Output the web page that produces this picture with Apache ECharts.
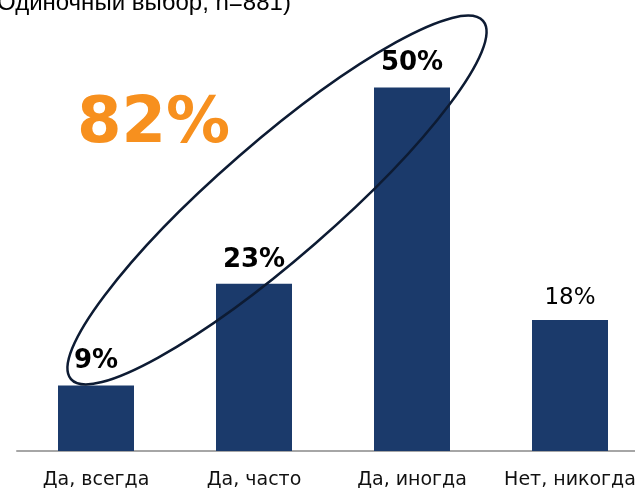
<!DOCTYPE html>
<html>
<head>
<meta charset="utf-8">
<script src="https://cdn.jsdelivr.net/npm/echarts@6/dist/echarts.min.js"></script>
<style>
  html, body { margin: 0; padding: 0; background: #fff; overflow: hidden; }
  #chart { width: 649px; height: 490px; }
</style>
</head>
<body>
<div id="chart"></div>
<script>
// ответы на вопрос (одиночный выбор, n=881)
var categories = ['Да, всегда', 'Да, часто', 'Да, иногда', 'Нет, никогда'];
var shares = [9, 23, 50, 18];
var subtitle = '(Одиночный выбор, n=881)';

// ответы "Да" обведены и просуммированы
var yesCount = 3;
var yesTotal = 0;
for (var i = 0; i < yesCount; i++) {
    yesTotal += shares[i];
}

var barData = [];
for (var i = 0; i < shares.length; i++) {
    var yes = i < yesCount;
    barData.push({
        value: shares[i],
        label: {
            fontWeight: yes ? 'bold' : 'normal',
            fontSize: yes ? 26 : 23,
            distance: yes ? 11 : 11
        }
    });
}

var chart = echarts.init(document.getElementById('chart'));
var option = {
    animation: false,
    grid: { left: 17, right: 0, top: 14.7, bottom: 38.5 },
    xAxis: {
        type: 'category',
        data: categories,
        axisTick: { show: false },
        axisLine: { lineStyle: { color: '#a6a6a6', width: 2 } },
        axisLabel: {
            interval: 0,
            color: '#111',
            fontFamily: 'DejaVu Sans',
            fontSize: 19,
            margin: 20
        }
    },
    yAxis: {
        type: 'value',
        min: 0,
        max: 60,
        show: false,
        splitLine: { show: false }
    },
    series: [{
        type: 'bar',
        data: barData,
        barWidth: 76,
        itemStyle: { color: '#1b3a6b' },
        label: {
            show: true,
            position: 'top',
            color: '#000',
            fontFamily: 'DejaVu Sans',
            formatter: '{c}%'
        }
    }],
    graphic: [
        {
            type: 'text',
            x: -11,
            y: 3,
            style: {
                text: subtitle,
                font: '24px "Liberation Sans"',
                fill: '#000',
                align: 'left',
                verticalAlign: 'middle'
            }
        },
        {
            type: 'text',
            x: 77,
            y: 125,
            style: {
                text: yesTotal + '%',
                font: 'bold 64px "DejaVu Sans"',
                fill: '#f7901e',
                align: 'left',
                verticalAlign: 'middle'
            }
        },
        {
            type: 'ellipse',
            x: 277,
            y: 200,
            rotation: 41 * Math.PI / 180,
            shape: { cx: 0, cy: 0, rx: 273, ry: 58 },
            style: { fill: null, stroke: '#0d1b33', lineWidth: 2.5 },
            z: 100
        }
    ]
};
chart.setOption(option);
</script>
</body>
</html>
